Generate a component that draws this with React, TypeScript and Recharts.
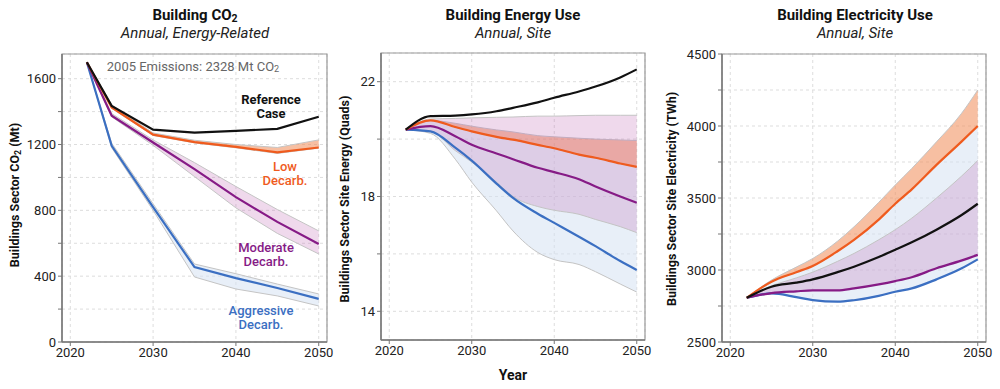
import React from "react";
import {
    ComposedChart, Line, Area, XAxis, YAxis, CartesianGrid, ReferenceArea,
} from "recharts";

// ─── Data ─────────────────────────────────────────────────────────────────────

// Building CO2 (Mt)
const co2Years = [2022, 2025, 2030, 2035, 2040, 2045, 2050];
const co2Ref = [1700, 1435, 1290, 1272, 1283, 1295, 1369];
const co2Low = [1700, 1425, 1260, 1215, 1186, 1152, 1182];
const co2LowLo = [1700, 1420, 1255, 1210, 1180, 1146, 1178];
const co2LowHi = [1700, 1440, 1270, 1226, 1200, 1182, 1228];
const co2Mod = [1700, 1375, 1212, 1050, 880, 730, 596];
const co2ModLo = [1700, 1368, 1195, 1005, 815, 660, 535];
const co2ModHi = [1700, 1388, 1228, 1090, 945, 805, 675];
const co2Agg = [1700, 1192, 820, 455, 388, 328, 262];
const co2AggLo = [1700, 1180, 800, 395, 322, 280, 219];
const co2AggHi = [1700, 1208, 840, 474, 415, 352, 292];

// Building energy use (Quads)
const enYears = [2022, 2025, 2028, 2030, 2033, 2035, 2038, 2040, 2043, 2045, 2048, 2050];
const enRef = [20.33, 20.8, 20.82, 20.86, 20.97, 21.09, 21.28, 21.44, 21.66, 21.83, 22.15, 22.43];
const enLow = [20.33, 20.65, 20.42, 20.27, 20.08, 19.98, 19.8, 19.68, 19.46, 19.35, 19.15, 19.03];
const enLowHi = [20.33, 20.65, 20.55, 20.45, 20.32, 20.25, 20.12, 20.08, 20.03, 20.0, 19.97, 19.95];
const enMod = [20.33, 20.45, 20.1, 19.8, 19.5, 19.3, 19.0, 18.85, 18.6, 18.35, 18.0, 17.78];
const enModLo = [20.33, 20.27, 19.6, 19.2, 18.5, 18.0, 17.65, 17.52, 17.38, 17.2, 16.95, 16.74];
const enModHi = [20.33, 20.7, 20.72, 20.74, 20.76, 20.77, 20.8, 20.8, 20.82, 20.83, 20.83, 20.83];
const enAgg = [20.33, 20.27, 19.7, 19.25, 18.45, 17.95, 17.4, 17.08, 16.6, 16.27, 15.75, 15.44];
const enAggLo = [20.33, 20.2, 19.3, 18.5, 17.5, 16.8, 16.05, 15.8, 15.63, 15.38, 14.95, 14.67];

// Building electricity use (TWh)
const elYears = [2022, 2025, 2028, 2030, 2033, 2035, 2038, 2040, 2042, 2045, 2048, 2050];
const elRef = [2807, 2884, 2912, 2935, 2985, 3023, 3090, 3140, 3192, 3280, 3380, 3460];
const elLow = [2807, 2919, 2985, 3028, 3130, 3209, 3350, 3460, 3560, 3730, 3890, 4000];
const elLowHi = [2807, 2930, 3020, 3080, 3200, 3300, 3470, 3590, 3705, 3890, 4085, 4250];
const elMod = [2807, 2840, 2852, 2858, 2858, 2872, 2900, 2923, 2950, 3012, 3065, 3105];
const elModHi = [2807, 2890, 2945, 2985, 3060, 3115, 3210, 3280, 3360, 3500, 3650, 3760];
const elAgg = [2807, 2837, 2812, 2791, 2780, 2790, 2820, 2849, 2872, 2935, 3010, 3074];

const xTicks = [2020, 2030, 2040, 2050];

// ─── Styles ───────────────────────────────────────────────────────────────────

const BLACK = "#111111";
const ORANGE = "#ef5b1e";
const PURPLE = "#861b86";
const BLUE = "#3b6fc2";
const EDGE = "#c4c4c4";
const FONT = "Roboto, 'Noto Sans', sans-serif";

const bandStyle = {
    blue: { fill: "#d6e2f3", opacity: 0.55 },
    orange: { fill: "#f08c5a", opacity: 0.56 },
    purple: { fill: "#bc5fb0", opacity: 0.24 },
};

type Band = { key: string; kind: "blue" | "orange" | "purple" };
type Series = { key: string; color: string };

interface PanelProps {
    left: number;
    width: number;
    yWidth: number;
    top: number;
    bottom: number;
    right: number;
    rows: Record<string, unknown>[];
    yDomain: [number, number];
    yTicks: number[];
    yLabels: number[];
    curve: "linear" | "monotone";
    bands: Band[];
    lines: Series[];
}

function Panel(p: PanelProps) {
    const tick = { fontSize: 13, fill: "#222", fontFamily: FONT };
    return (
        <div style={{ position: "absolute", left: p.left, top: 0 }}>
            <ComposedChart
                width={p.width}
                height={389}
                data={p.rows}
                margin={{ top: p.top, right: p.right, bottom: p.bottom - 30, left: 0 }}
                style={{ fontFamily: FONT }}
            >
                <CartesianGrid stroke="#dddddd" strokeDasharray="3 3" />
                <XAxis
                    type="number"
                    dataKey="year"
                    domain={[2019, 2051]}
                    ticks={xTicks}
                    tick={tick}
                    tickSize={4}
                    height={30}
                    axisLine={{ stroke: "#777", strokeWidth: 1.5 }}
                    tickLine={{ stroke: "#777" }}
                />
                <YAxis
                    type="number"
                    domain={p.yDomain}
                    ticks={p.yTicks}
                    tickFormatter={(v: number) => (p.yLabels.includes(v) ? String(v) : "")}
                    tick={tick}
                    tickSize={4}
                    width={p.yWidth}
                    allowDataOverflow
                    axisLine={{ stroke: "#777", strokeWidth: 1.5 }}
                    tickLine={{ stroke: "#777" }}
                />
                {p.bands.map((b) => (
                    <Area
                        key={b.key}
                        dataKey={b.key}
                        type={p.curve}
                        fill={bandStyle[b.kind].fill}
                        fillOpacity={bandStyle[b.kind].opacity}
                        stroke={EDGE}
                        strokeWidth={1}
                        isAnimationActive={false}
                        dot={false}
                        activeDot={false}
                    />
                ))}
                {p.lines.map((l) => (
                    <Line
                        key={l.key}
                        dataKey={l.key}
                        type={p.curve}
                        stroke={l.color}
                        strokeWidth={2.2}
                        dot={false}
                        activeDot={false}
                        isAnimationActive={false}
                    />
                ))}
                <ReferenceArea
                    x1={2019}
                    x2={2051}
                    y1={p.yDomain[0]}
                    y2={p.yDomain[1]}
                    fill="none"
                    stroke="#999"
                    strokeWidth={1.2}
                />
            </ComposedChart>
        </div>
    );
}

// ─── Rows ─────────────────────────────────────────────────────────────────────

const co2Rows = co2Years.map((year, i) => ({
    year,
    ref: co2Ref[i],
    low: co2Low[i],
    mod: co2Mod[i],
    agg: co2Agg[i],
    lowBand: [co2LowLo[i], co2LowHi[i]],
    modBand: [co2ModLo[i], co2ModHi[i]],
    aggBand: [co2AggLo[i], co2AggHi[i]],
}));

const enRows = enYears.map((year, i) => ({
    year,
    ref: enRef[i],
    low: enLow[i],
    mod: enMod[i],
    agg: enAgg[i],
    lowBand: [enLow[i], enLowHi[i]],
    modBand: [enModLo[i], enModHi[i]],
    aggBand: [enAggLo[i], enLow[i]],
}));

const elRows = elYears.map((year, i) => ({
    year,
    ref: elRef[i],
    low: elLow[i],
    mod: elMod[i],
    agg: elAgg[i],
    lowBand: [elLow[i], elLowHi[i]],
    modBand: [elMod[i], elModHi[i]],
    aggBand: [elAgg[i], elLow[i]],
}));

const lines: Series[] = [
    { key: "agg", color: BLUE },
    { key: "mod", color: PURPLE },
    { key: "low", color: ORANGE },
    { key: "ref", color: BLACK },
];

// ─── Text helpers ─────────────────────────────────────────────────────────────

const abs = (x: number, y: number, extra: React.CSSProperties = {}): React.CSSProperties => ({
    position: "absolute",
    left: x,
    top: y,
    transform: "translate(-50%, -50%)",
    whiteSpace: "nowrap",
    textAlign: "center",
    ...extra,
});

const sub: React.CSSProperties = { fontSize: "0.7em", verticalAlign: "-0.2em", lineHeight: 0 };

function Title({ x, main, subtitle }: { x: number; main: React.ReactNode; subtitle: string }) {
    return (
        <>
            <div style={abs(x, 15, { fontWeight: 700, fontSize: 15, lineHeight: "15px", color: "#111" })}>{main}</div>
            <div style={abs(x, 33, { fontStyle: "italic", fontSize: 15, lineHeight: "15px", color: "#222" })}>{subtitle}</div>
        </>
    );
}

function YLabel({ x, y, children }: { x: number; y: number; children: React.ReactNode }) {
    return (
        <div
            style={{
                ...abs(x, y),
                transform: "translate(-50%, -50%) rotate(-90deg)",
                fontWeight: 700,
                fontSize: 12.5,
                lineHeight: "14px",
                color: "#111",
            }}
        >
            {children}
        </div>
    );
}

function Note({ x, y, color, weight, children }: { x: number; y: number; color: string; weight: number; children: React.ReactNode }) {
    return (
        <div style={abs(x, y, { color, fontWeight: weight, fontSize: 13, lineHeight: "14px" })}>{children}</div>
    );
}

export default function App() {
    return (
        <div
            style={{
                position: "absolute",
                left: 0,
                top: 0,
                width: 1000,
                height: 389,
                background: "#fff",
                fontFamily: FONT,
                overflow: "hidden",
            }}
        >
            <Panel
                left={0}
                width={340}
                yWidth={62}
                top={54}
                bottom={47}
                right={13}
                rows={co2Rows}
                yDomain={[0, 1750]}
                yTicks={[0, 200, 400, 600, 800, 1000, 1200, 1400, 1600]}
                yLabels={[0, 400, 800, 1200, 1600]}
                curve="linear"
                bands={[
                    { key: "aggBand", kind: "blue" },
                    { key: "modBand", kind: "purple" },
                    { key: "lowBand", kind: "orange" },
                ]}
                lines={lines}
            />
            <Panel
                left={330}
                width={330}
                yWidth={51}
                top={53}
                bottom={49}
                right={15}
                rows={enRows}
                yDomain={[13, 23]}
                yTicks={[14, 16, 18, 20, 22]}
                yLabels={[14, 18, 22]}
                curve="monotone"
                bands={[
                    { key: "aggBand", kind: "blue" },
                    { key: "lowBand", kind: "orange" },
                    { key: "modBand", kind: "purple" },
                ]}
                lines={lines}
            />
            <Panel
                left={660}
                width={340}
                yWidth={62}
                top={54}
                bottom={47}
                right={14}
                rows={elRows}
                yDomain={[2500, 4500]}
                yTicks={[2500, 2750, 3000, 3250, 3500, 3750, 4000, 4250, 4500]}
                yLabels={[2500, 3000, 3500, 4000, 4500]}
                curve="monotone"
                bands={[
                    { key: "aggBand", kind: "blue" },
                    { key: "modBand", kind: "purple" },
                    { key: "lowBand", kind: "orange" },
                ]}
                lines={lines}
            />

            <Title x={195} main={<>Building CO<sub style={sub}>2</sub></>} subtitle="Annual, Energy-Related" />
            <Title x={513} main="Building Energy Use" subtitle="Annual, Site" />
            <Title x={855} main="Building Electricity Use" subtitle="Annual, Site" />

            <YLabel x={15} y={195}>Buildings Sector CO<sub style={sub}>2</sub> (Mt)</YLabel>
            <YLabel x={345} y={199}>Buildings Sector Site Energy (Quads)</YLabel>
            <YLabel x={672} y={199}>Buildings Sector Site Electricity (TWh)</YLabel>
            <div style={abs(513, 375, { fontWeight: 700, fontSize: 14, color: "#111" })}>Year</div>

            <div style={abs(193, 66, { fontSize: 13, color: "#666" })}>
                2005 Emissions: 2328 Mt CO<sub style={sub}>2</sub>
            </div>
            <Note x={271} y={107} color={BLACK} weight={700}>Reference<br />Case</Note>
            <Note x={285} y={174} color={ORANGE} weight={500}>Low<br />Decarb.</Note>
            <Note x={266} y={255} color={PURPLE} weight={500}>Moderate<br />Decarb.</Note>
            <Note x={261} y={318} color={BLUE} weight={500}>Aggressive<br />Decarb.</Note>
        </div>
    );
}
